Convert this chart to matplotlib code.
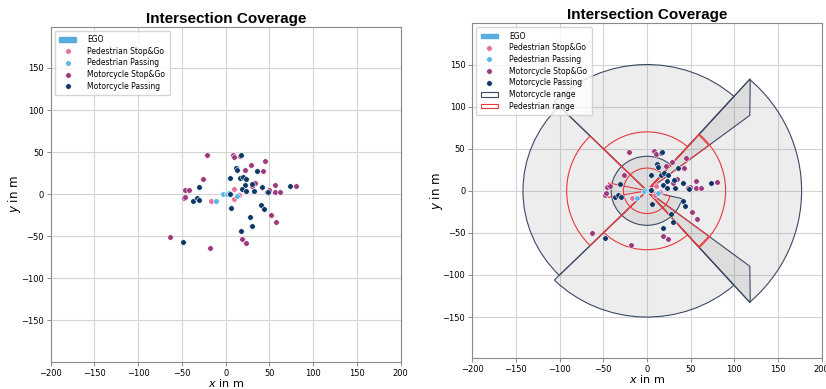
import numpy as np
import matplotlib
matplotlib.use("Agg")
import matplotlib.pyplot as plt
from matplotlib.patches import Rectangle, Wedge, Polygon, Patch
from matplotlib.lines import Line2D

# ---- scenario points (x, y in m) ----
ped_stop_x = [-17, 10, 9, 15]
ped_stop_y = [-8, 6, -5.5, -1]

ped_pass_x = [-11, 13, -3, 1, 4]
ped_pass_y = [-8, -2.5, 0.3, 0.8, 1.5]

moto_stop_x = [-21, 8.5, 10, 16, 28.5, 44.5, 42.5, 22, -26, 34, 29.5, 56, 80, 49.5, 47.5,
               56.5, 61.7, -46, -42.5, -48, -46.5, 51.4, 57.5, 18.7, 23.6, -63.5, -18]
moto_stop_y = [46.5, 47, 44, 45, 34.5, 39, 27.5, 29, 18.6, 13.5, 9.5, 11.5, 10, 5, 3,
               3, 2.8, 4.5, 5.5, -4.5, -3, -25, -33, -53.7, -57.5, -50.5, -64]

moto_pass_x = [17.5, 12, 12.8, 36, 5, 16, 20, 23.6, 22.5, 30.5, 41.3, 18.3, 23, 32, 48,
               73.5, -30.5, -37, -33, -30, 6, 40.8, 43.8, 27.4, 30, 18, -48.4, 5]
moto_pass_y = [46, 31.5, 28.4, 27, 19.3, 19, 21, 18.4, 11.4, 12.5, 9, 6.7, 3.8, 3.8, 2.6,
               9.8, 8.3, -7.9, -4.5, -7.3, -16, -12.6, -18, -27, -37.5, -43.8, -56.5, 0.8]

# ego vehicle footprint
ego_x, ego_y, ego_len, ego_wid = -2.5, -1.2, 6.0, 2.4

# ---- sensor coverage: sectors (range, start angle, end angle) ----
moto_range = [177, 150, 142, 150, 41]
moto_th1 = [-48.4, 48.4, 135, 225, 48.4]
moto_th2 = [48.4, 135, 225, 311.6, 347]
# narrow beams: (near range, near angle, far range, far angle)
moto_beams = [(148, 37.3, 178, 48.4), (148, -37.3, 178, -48.4)]

ped_range = [90, 70, 92, 70, 27, 45]
ped_th1 = [-48.4, 48.4, 135, 225, 48.4, 168]
ped_th2 = [48.4, 135, 225, 311.6, 347, 190]
ped_beams = [(89, 37.3, 89, 48.4), (89, -37.3, 89, -48.4)]

# ---- styles ----
C_EGO = "#5aace0"
C_PSTOP = "#e2729c"
C_PPASS = "#5bb6e6"
C_MSTOP = "#9c3a7c"
C_MPASS = "#0c3766"
C_MOTO = "#3c4866"
C_PED = "#e8383d"
MOTO_FACE = (0.5, 0.5, 0.5, 0.14)

fig = plt.figure(figsize=(8.26, 3.89), dpi=100)
ax1 = fig.add_axes([50.7 / 826, 1 - 361.7 / 389, 350 / 826, 335 / 389])
ax2 = fig.add_axes([472.3 / 826, 1 - 358.3 / 389, 349.4 / 826, 335 / 389])


def beam_polygon(r1, a1, r2, a2):
    a1, a2 = np.radians(a1), np.radians(a2)
    return [(0, 0), (r2 * np.cos(a2), r2 * np.sin(a2)), (r1 * np.cos(a1), r1 * np.sin(a1))]


def draw_points(ax):
    ax.add_patch(Rectangle((ego_x, ego_y), ego_len, ego_wid, facecolor=C_EGO,
                           edgecolor=C_EGO, lw=1.5, zorder=4))
    kw = dict(s=16, edgecolor="white", linewidths=0.4, zorder=5)
    ax.scatter(ped_stop_x, ped_stop_y, color=C_PSTOP, **kw)
    ax.scatter(ped_pass_x, ped_pass_y, color=C_PPASS, **kw)
    ax.scatter(moto_stop_x, moto_stop_y, color=C_MSTOP, **kw)
    ax.scatter(moto_pass_x, moto_pass_y, color=C_MPASS, **kw)


def style(ax):
    ax.set_xlim(-200, 200)
    ax.set_ylim(-199, 199)
    ax.set_xticks(np.arange(-200, 201, 50))
    ax.set_yticks(np.arange(-150, 151, 50))
    ax.grid(True, color="#d4d4d4", lw=0.8)
    ax.set_axisbelow(True)
    ax.tick_params(labelsize=6, length=3, width=0.6, color="#777", pad=2)
    for s in ax.spines.values():
        s.set_color("#8a8a8a")
        s.set_linewidth(0.8)
    ax.set_xlabel("$x$ in m", fontsize=8, labelpad=-0.6)
    ax.set_ylabel("$y$ in m", fontsize=8.5, labelpad=-1.5)
    ax.set_title("Intersection Coverage", fontsize=11, fontweight="bold",
                 family="Liberation Sans", pad=3)


handles = [
    Patch(facecolor=C_EGO, edgecolor=C_EGO, label="EGO"),
    Line2D([], [], ls="", marker="o", ms=4, mfc=C_PSTOP, mec="white", mew=0.4, label="Pedestrian Stop&Go"),
    Line2D([], [], ls="", marker="o", ms=4, mfc=C_PPASS, mec="white", mew=0.4, label="Pedestrian Passing"),
    Line2D([], [], ls="", marker="o", ms=4, mfc=C_MSTOP, mec="white", mew=0.4, label="Motorcycle Stop&Go"),
    Line2D([], [], ls="", marker="o", ms=4, mfc=C_MPASS, mec="white", mew=0.4, label="Motorcycle Passing"),
]
leg_kw = dict(loc="upper left", fontsize=5.5, handlelength=2.2, handleheight=0.6,
              labelspacing=0.35, borderpad=0.6, handletextpad=1.5, framealpha=0.8)

# left: scenarios only
draw_points(ax1)
style(ax1)
ax1.legend(handles=handles, **leg_kw)

# right: scenarios + coverage
for r, t1, t2 in zip(moto_range, moto_th1, moto_th2):
    ax2.add_patch(Wedge((0, 0), r, t1, t2, facecolor=MOTO_FACE, edgecolor=C_MOTO, lw=0.8, zorder=2))
for b in moto_beams:
    ax2.add_patch(Polygon(beam_polygon(*b), closed=True, facecolor=MOTO_FACE,
                          edgecolor=C_MOTO, lw=0.8, zorder=2))
for r, t1, t2 in zip(ped_range, ped_th1, ped_th2):
    ax2.add_patch(Wedge((0, 0), r, t1, t2, facecolor="none", edgecolor=C_PED, lw=0.8, zorder=3))
for b in ped_beams:
    ax2.add_patch(Polygon(beam_polygon(*b), closed=True, facecolor="none",
                          edgecolor=C_PED, lw=0.8, zorder=3))
draw_points(ax2)
style(ax2)
handles2 = handles + [
    Patch(facecolor="white", edgecolor=C_MOTO, lw=0.8, label="Motorcycle range"),
    Patch(facecolor="white", edgecolor=C_PED, lw=0.8, label="Pedestrian range"),
]
ax2.legend(handles=handles2, **leg_kw)

fig.savefig("out.png", dpi=100)
